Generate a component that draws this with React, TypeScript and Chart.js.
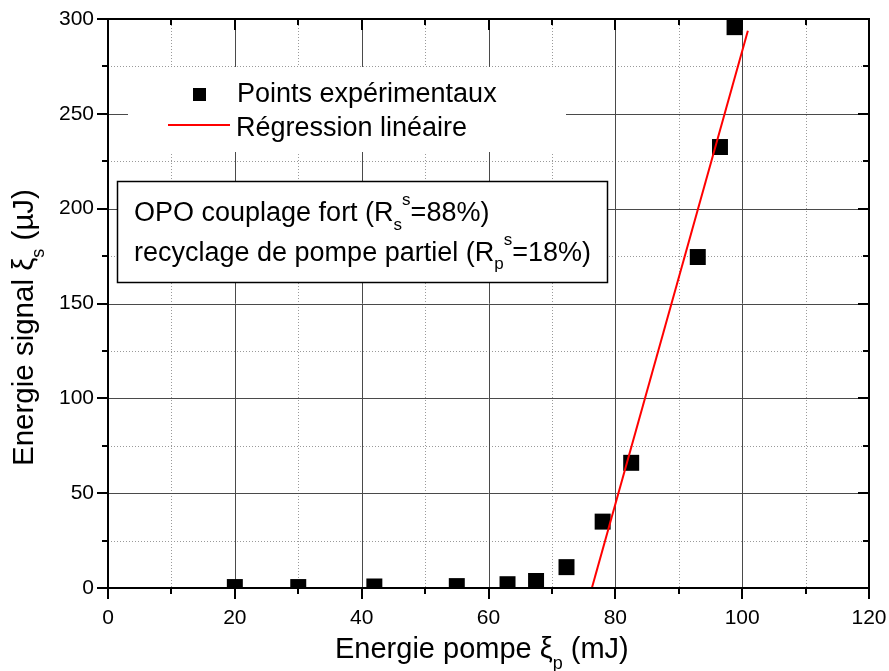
import React, { useEffect, useRef } from 'react';
import { Chart, registerables } from 'chart.js';

Chart.register(...registerables);

const FONT = '"Liberation Sans", Arial, Helvetica, sans-serif';

// Experimental points
const pumpEnergy = [20, 30, 42, 55, 63, 67.5, 72.3, 78, 82.5, 93, 96.5, 98.8];
const signalEnergy = [0.5, 0.5, 0.8, 1, 2, 3.7, 11, 35, 66, 174.5, 232.5, 295.7];
// Linear regression end points
const fitPump = [76.3, 100.9];
const fitSignal = [0, 293.8];

const xMajorTicks = [0, 20, 40, 60, 80, 100, 120];
const xMinorTicks = [10, 30, 50, 70, 90, 110];
const yMajorTicks = [0, 50, 100, 150, 200, 250, 300];
const yMinorTicks = [25, 75, 125, 175, 225, 275];

const legendLabels = ['Points expérimentaux', 'Régression linéaire'];

type Seg = { t: string; m?: 'sub' | 'sup' };
const xTitle: Seg[] = [{ t: 'Energie pompe ξ' }, { t: 'p', m: 'sub' }, { t: ' (mJ)' }];
const yTitle: Seg[] = [{ t: 'Energie signal ξ' }, { t: 's', m: 'sub' }, { t: ' (µJ)' }];
const noteLine1: Seg[] = [{ t: 'OPO couplage fort (R' }, { t: 's', m: 'sub' }, { t: 's', m: 'sup' }, { t: '=88%)' }];
const noteLine2: Seg[] = [{ t: 'recyclage de pompe partiel (R' }, { t: 'p', m: 'sub' }, { t: 's', m: 'sup' }, { t: '=18%)' }];

function drawRich(
  ctx: CanvasRenderingContext2D,
  segs: Seg[],
  x: number,
  y: number,
  size: number,
  subSize: number,
  subDy: number,
  supDy: number
) {
  let cx = x;
  ctx.textBaseline = 'alphabetic';
  ctx.textAlign = 'left';
  for (const s of segs) {
    const sz = s.m ? subSize : size;
    ctx.font = `${sz}px ${FONT}`;
    const dy = s.m === 'sub' ? subDy : s.m === 'sup' ? supDy : 0;
    ctx.fillText(s.t, cx, y + dy);
    cx += ctx.measureText(s.t).width;
  }
}

function seg(ctx: CanvasRenderingContext2D, x1: number, y1: number, x2: number, y2: number) {
  ctx.beginPath();
  ctx.moveTo(x1, y1);
  ctx.lineTo(x2, y2);
  ctx.stroke();
}

const decorPlugin = {
  id: 'decor',
  beforeDatasetsDraw(chart: any) {
    const { ctx, chartArea, scales } = chart;
    const { left, right, top, bottom } = chartArea;
    const xs = scales.x;
    const ys = scales.y;
    ctx.save();
    // minor dotted grid
    ctx.strokeStyle = '#9a9a9a';
    ctx.lineWidth = 1;
    ctx.setLineDash([1, 2]);
    xMinorTicks.forEach((v) => {
      const px = Math.round(xs.getPixelForValue(v)) + 0.5;
      seg(ctx, px, top, px, bottom);
    });
    yMinorTicks.forEach((v) => {
      const py = Math.round(ys.getPixelForValue(v)) + 0.5;
      seg(ctx, left, py, right, py);
    });
    // major solid grid
    ctx.setLineDash([]);
    ctx.strokeStyle = '#4a4a4a';
    xMajorTicks.forEach((v) => {
      const px = Math.round(xs.getPixelForValue(v)) + 0.5;
      seg(ctx, px, top, px, bottom);
    });
    yMajorTicks.forEach((v) => {
      const py = Math.round(ys.getPixelForValue(v)) + 0.5;
      seg(ctx, left, py, right, py);
    });

    // legend background
    ctx.fillStyle = '#ffffff';
    ctx.fillRect(128, 67, 438, 85);
    // legend items
    ctx.fillStyle = '#000';
    ctx.fillRect(193, 88, 13, 13);
    ctx.strokeStyle = '#ff0000';
    ctx.lineWidth = 2;
    seg(ctx, 168, 125, 230, 125);
    ctx.fillStyle = '#000';
    ctx.font = `27px ${FONT}`;
    ctx.textBaseline = 'alphabetic';
    ctx.textAlign = 'left';
    ctx.fillText(legendLabels[0], 237, 102);
    ctx.fillText(legendLabels[1], 236, 136);

    // annotation box
    ctx.fillStyle = '#ffffff';
    ctx.fillRect(117, 181, 490, 101);
    ctx.strokeStyle = '#000';
    ctx.lineWidth = 1.5;
    ctx.strokeRect(117.5, 181.5, 490, 101);
    ctx.fillStyle = '#000';
    drawRich(ctx, noteLine1, 134, 221, 27, 17, 9, -16);
    drawRich(ctx, noteLine2, 134, 261, 27, 17, 8, -16);
    ctx.restore();
  },
  afterDatasetsDraw(chart: any) {
    const { ctx, chartArea, scales } = chart;
    const { left, right, top, bottom } = chartArea;
    const xs = scales.x;
    const ys = scales.y;
    ctx.save();
    ctx.strokeStyle = '#000';
    ctx.lineWidth = 2;
    ctx.setLineDash([]);
    ctx.strokeRect(left, top, right - left, bottom - top);
    const MAJ = 11;
    const MIN = 6;
    xMajorTicks.forEach((v) => {
      const px = Math.round(xs.getPixelForValue(v));
      seg(ctx, px, bottom, px, bottom + MAJ);
      seg(ctx, px, top, px, top + MAJ);
    });
    xMinorTicks.forEach((v) => {
      const px = Math.round(xs.getPixelForValue(v));
      seg(ctx, px, bottom, px, bottom + MIN);
      seg(ctx, px, top, px, top + MIN);
    });
    yMajorTicks.forEach((v) => {
      const py = Math.round(ys.getPixelForValue(v));
      seg(ctx, left - MAJ, py, left, py);
      seg(ctx, right - MAJ, py, right, py);
    });
    yMinorTicks.forEach((v) => {
      const py = Math.round(ys.getPixelForValue(v));
      seg(ctx, left - MIN, py, left, py);
      seg(ctx, right - MIN, py, right, py);
    });

    // axis titles
    ctx.fillStyle = '#000';
    drawRich(ctx, xTitle, 335, 658, 29, 18, 11, -14);
    ctx.translate(33, 466);
    ctx.rotate(-Math.PI / 2);
    drawRich(ctx, yTitle, 0, 0, 29.5, 18, 11, -14);
    ctx.restore();
  },
};

export default function App() {
  const ref = useRef<HTMLCanvasElement | null>(null);

  useEffect(() => {
    document.body.style.margin = '0';
    const canvas = ref.current;
    if (!canvas) return;
    const chart = new Chart(canvas, {
      type: 'scatter',
      data: {
        datasets: [
          {
            label: legendLabels[0],
            data: pumpEnergy.map((v, i) => ({ x: v, y: signalEnergy[i] })),
            pointStyle: 'rect',
            pointRadius: 11.3,
            pointHoverRadius: 11.3,
            backgroundColor: '#000',
            borderColor: '#000',
            borderWidth: 0,
            showLine: false,
            clip: 0,
            order: 2,
          } as any,
          {
            label: legendLabels[1],
            data: fitPump.map((v, i) => ({ x: v, y: fitSignal[i] })),
            showLine: true,
            borderColor: '#ff0000',
            borderWidth: 2,
            pointRadius: 0,
            fill: false,
            clip: 0,
            order: 1,
          } as any,
        ],
      },
      options: {
        animation: false,
        responsive: false,
        events: [],
        layout: { padding: { top: 19, right: 20, left: 0, bottom: 0 } },
        plugins: { legend: { display: false }, tooltip: { enabled: false } },
        scales: {
          x: {
            type: 'linear',
            min: 0,
            max: 120,
            afterFit: (s: any) => {
              s.height = 83;
              s.paddingLeft = 0;
              s.paddingRight = 0;
            },
            ticks: { stepSize: 20, color: '#000', padding: 18, font: { family: FONT, size: 21 } },
            grid: { display: false, drawTicks: false },
            border: { display: false },
          },
          y: {
            type: 'linear',
            min: 0,
            max: 300,
            afterFit: (s: any) => {
              s.width = 108;
              s.paddingTop = 0;
              s.paddingBottom = 0;
            },
            ticks: { stepSize: 50, color: '#000', padding: 14, font: { family: FONT, size: 21 } },
            grid: { display: false, drawTicks: false },
            border: { display: false },
          },
        },
      },
      plugins: [decorPlugin],
    });
    return () => chart.destroy();
  }, []);

  return (
    <div style={{ width: 889, height: 671 }}>
      <canvas ref={ref} width={889} height={671} style={{ display: 'block' }} />
    </div>
  );
}
